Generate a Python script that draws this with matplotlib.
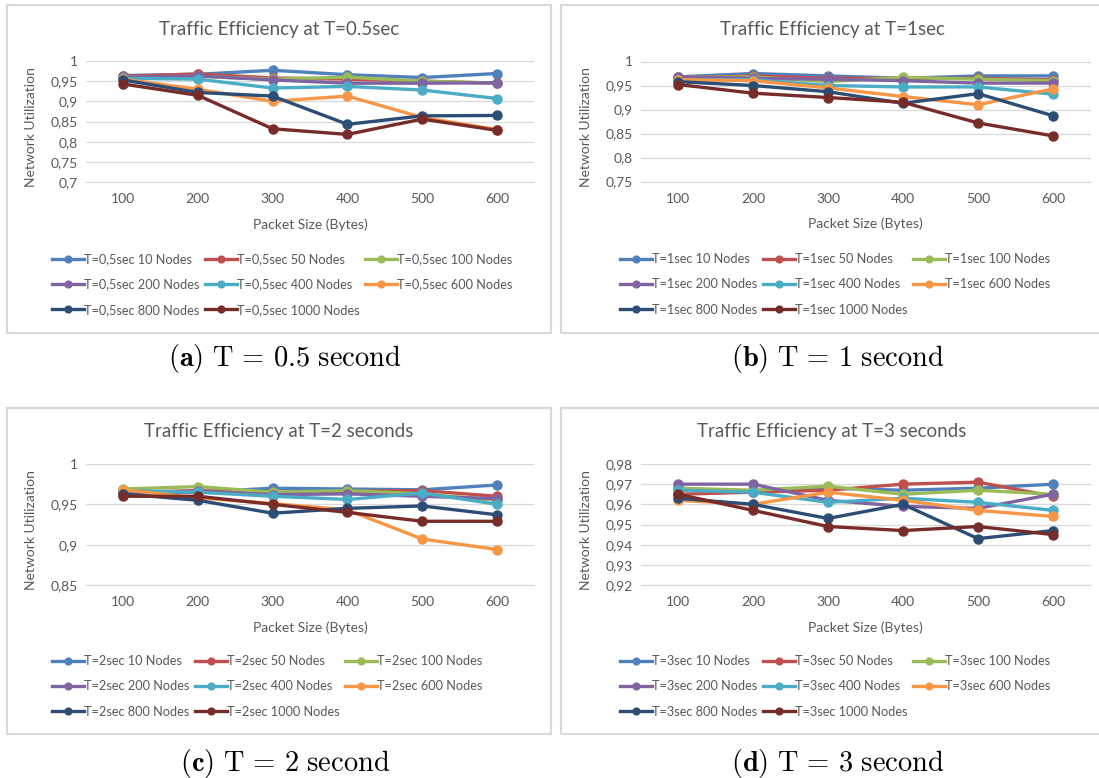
import numpy as np
import matplotlib
matplotlib.use('Agg')
import matplotlib.pyplot as plt
from matplotlib.patches import Rectangle
from matplotlib.ticker import FuncFormatter

plt.rcParams['font.family'] = ['Lato', 'DejaVu Sans']
plt.rcParams['mathtext.fontset'] = 'cm'

# ── data ────────────────────────────────────────────────────────────────────
packet_sizes = [100, 200, 300, 400, 500, 600]
node_counts = [10, 50, 100, 200, 400, 600, 800, 1000]
colors = ['#4F81BD', '#C0504D', '#9BBB59', '#8064A2',
          '#4BACC6', '#F79646', '#2C4D75', '#772C2A']

util_05 = [
    [0.964, 0.967, 0.977, 0.966, 0.959, 0.969],
    [0.962, 0.968, 0.958, 0.955, 0.950, 0.945],
    [0.960, 0.962, 0.955, 0.960, 0.950, 0.945],
    [0.960, 0.963, 0.953, 0.945, 0.945, 0.946],
    [0.957, 0.955, 0.933, 0.937, 0.928, 0.907],
    [0.955, 0.930, 0.900, 0.913, 0.860, 0.830],
    [0.953, 0.922, 0.913, 0.843, 0.864, 0.865],
    [0.943, 0.915, 0.832, 0.818, 0.856, 0.828],
]
util_1 = [
    [0.968, 0.975, 0.970, 0.965, 0.970, 0.970],
    [0.967, 0.970, 0.965, 0.965, 0.965, 0.962],
    [0.967, 0.968, 0.958, 0.967, 0.963, 0.960],
    [0.968, 0.965, 0.963, 0.960, 0.955, 0.955],
    [0.962, 0.962, 0.950, 0.947, 0.947, 0.932],
    [0.962, 0.960, 0.945, 0.927, 0.910, 0.943],
    [0.958, 0.950, 0.937, 0.913, 0.933, 0.887],
    [0.952, 0.934, 0.925, 0.915, 0.872, 0.845],
]
util_2 = [
    [0.964, 0.965, 0.970, 0.969, 0.968, 0.974],
    [0.965, 0.967, 0.965, 0.966, 0.967, 0.960],
    [0.969, 0.972, 0.965, 0.967, 0.963, 0.955],
    [0.965, 0.966, 0.962, 0.963, 0.960, 0.957],
    [0.967, 0.965, 0.960, 0.956, 0.964, 0.950],
    [0.968, 0.958, 0.951, 0.943, 0.907, 0.894],
    [0.963, 0.955, 0.939, 0.945, 0.948, 0.937],
    [0.960, 0.960, 0.950, 0.940, 0.929, 0.929],
]
util_3 = [
    [0.968, 0.966, 0.968, 0.967, 0.968, 0.970],
    [0.965, 0.966, 0.967, 0.970, 0.971, 0.964],
    [0.968, 0.967, 0.969, 0.965, 0.967, 0.965],
    [0.970, 0.970, 0.962, 0.959, 0.958, 0.965],
    [0.967, 0.966, 0.961, 0.963, 0.961, 0.957],
    [0.962, 0.960, 0.966, 0.962, 0.957, 0.954],
    [0.963, 0.960, 0.953, 0.960, 0.943, 0.947],
    [0.965, 0.957, 0.949, 0.947, 0.949, 0.945],
]

panels = [
    # data, title, series prefix, y ticks, caption letter, caption T
    (util_05, 'Traffic Efficiency at T=0.5sec', 'T=0,5sec',
     [0.7, 0.75, 0.8, 0.85, 0.9, 0.95, 1.0], 'a', '0.5'),
    (util_1, 'Traffic Efficiency at T=1sec', 'T=1sec',
     [0.75, 0.8, 0.85, 0.9, 0.95, 1.0], 'b', '1'),
    (util_2, 'Traffic Efficiency at T=2 seconds', 'T=2sec',
     [0.85, 0.9, 0.95, 1.0], 'c', '2'),
    (util_3, 'Traffic Efficiency at T=3 seconds', 'T=3sec',
     [0.92, 0.93, 0.94, 0.95, 0.96, 0.97, 0.98], 'd', '3'),
]

# ── layout in pixels (figure is 1099 x 778) ─────────────────────────────────
W, H = 1099, 778
boxes = [(7, 5, 551, 333), (561, 5, 1103, 333),
         (7, 408, 551, 734), (561, 408, 1103, 734)]
axes_px = [(85.5, 61, 534.5, 182), (640.5, 61.5, 1090.5, 181.5),
           (85.5, 464, 534.5, 585), (640.5, 464, 1090.5, 585)]
legend_px = [(52, 253), (620, 253), (52, 655), (620, 655)]
caption_px = [(285, 359), (838, 359), (285, 763), (838, 763)]

GRAY = '#595959'
GRID = '#D9D9D9'
# Excel fills legend rows first, matplotlib fills columns first
LEG_ORDER = [0, 3, 6, 1, 4, 7, 2, 5]


def fmt(v, _):
    s = f'{v:.2f}'.rstrip('0').rstrip('.')
    return s.replace('.', ',')


fig = plt.figure(figsize=(W / 100, H / 100), dpi=100)

for i, (data, title, prefix, yticks, letter, tval) in enumerate(panels):
    bx0, by0, bx1, by1 = boxes[i]
    fig.patches.append(Rectangle((bx0 / W, 1 - by1 / H), (bx1 - bx0) / W,
                                 (by1 - by0) / H, transform=fig.transFigure,
                                 fill=False, ec=GRID, lw=1.5))
    x0, y0, x1, y1 = axes_px[i]
    ax = fig.add_axes([x0 / W, 1 - y1 / H, (x1 - x0) / W, (y1 - y0) / H])

    for n, vals, c in zip(node_counts, data, colors):
        ax.plot(packet_sizes, vals, color=c, lw=2.4, marker='o', ms=6.5,
                label=f'{prefix} {n} Nodes')

    ax.set_xlim(50, 650)
    ax.set_ylim(yticks[0], yticks[-1])
    ax.set_xticks(packet_sizes)
    ax.set_yticks(yticks)
    ax.yaxis.set_major_formatter(FuncFormatter(fmt))
    ax.grid(axis='y', color=GRID, lw=0.9)
    ax.set_axisbelow(True)
    for s in ('top', 'left', 'right'):
        ax.spines[s].set_visible(False)
    ax.spines['bottom'].set_color(GRID)
    ax.tick_params(length=0, labelsize=10, labelcolor=GRAY)
    ax.tick_params(axis='y', pad=5.5)
    ax.tick_params(axis='x', pad=8)
    ax.set_ylabel('Network Utilization', fontsize=10, color=GRAY)
    ax.yaxis.set_label_coords(-0.108, 0.45)
    ax.set_xlabel('Packet Size (Bytes)', fontsize=10, color=GRAY)
    ax.xaxis.set_label_coords(0.5, -0.30)

    fig.text((bx0 + bx1) / 2 / W, 1 - 29 / H - (by0 - 5) / H, title,
             ha='center', va='center', fontsize=13.5, color=GRAY)

    h, l = ax.get_legend_handles_labels()
    lx, ly = legend_px[i]
    fig.legend([h[k] for k in LEG_ORDER], [l[k] for k in LEG_ORDER],
               loc='upper left', bbox_to_anchor=(lx / W, 1 - ly / H),
               ncol=3, frameon=False, fontsize=9.2, labelcolor=GRAY,
               handlelength=2.5, handletextpad=0.0, columnspacing=0.45,
               labelspacing=1.05, borderpad=0, borderaxespad=0,
               markerscale=0.75)

    cx, cy = caption_px[i]
    fig.text(cx / W, 1 - cy / H,
             rf'$\mathbf{{({letter})}}\ \mathrm{{T}}\,=\,{tval}\ \mathrm{{second}}$',
             ha='center', va='center', fontsize=20.5)

fig.savefig('out.png', dpi=100)
